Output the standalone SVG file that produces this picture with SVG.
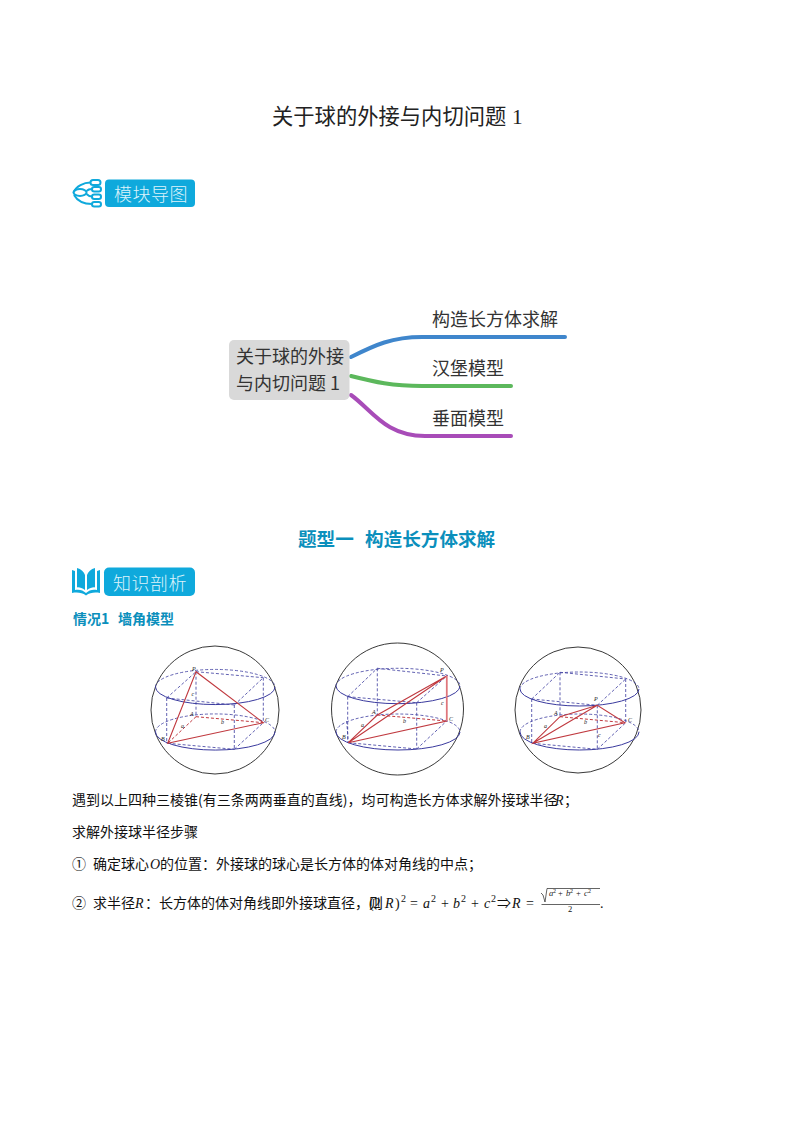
<svg xmlns="http://www.w3.org/2000/svg" width="794" height="1123" viewBox="0 0 794 1123">
<style>
text{font-family:"Noto Sans CJK SC","Liberation Sans",sans-serif;fill:#222}
.b{font-size:14px;fill:#111}
.m{font-family:"Liberation Serif","Noto Sans CJK SC",serif;font-size:14px;fill:#111}
.i{font-style:italic}
.s{font-size:10px}
.f{font-family:"Liberation Serif",serif;font-size:8.5px;font-style:italic;fill:#222}
.mm{font-size:18px;fill:#333}
.ban{fill:#0FA9DC}
.bt{font-size:18px;fill:#DDF3FB;letter-spacing:.5px;font-weight:300}
.ic{fill:none;stroke:#0FA9DC;stroke-width:2}
.c{fill:#fff;stroke:#222;stroke-width:.9}
.so{fill:none;stroke:#3A3A9E;stroke-width:1}
.da{fill:none;stroke:#3A3A9E;stroke-width:.8;stroke-dasharray:3 2}
.r{fill:none;stroke:#C0393F;stroke-width:1.1}
.rd{fill:none;stroke:#C0393F;stroke-width:1;stroke-dasharray:3 2}
.l{font-family:"Liberation Serif",serif;font-size:6px;font-style:italic;fill:#222}
.cn{fill:none;stroke-width:4;stroke-linecap:round}
</style>
<rect width="794" height="1123" fill="#fff"/>
<text x="272" y="124" font-size="21.3" fill="#222">关于球的外接与内切问题</text>
<text x="512" y="124" font-size="21.3" style="font-family:'Liberation Serif',serif">1</text>

<g id="icon-map" class="ic">
<ellipse cx="80" cy="192.5" rx="6.5" ry="3.5" class="ic"/>
<rect x="90.500" y="180" width="10" height="5" rx="2.500" class="ic"/>
<rect x="92" y="187" width="9" height="4.500" rx="2.200" class="ic"/>
<rect x="92" y="194.500" width="9" height="4.500" rx="2.200" class="ic"/>
<rect x="92" y="202" width="9" height="4.500" rx="2.200" class="ic"/>
<path class="ic" d="M73.500 192.500C76 186 84 182.500 90.500 182.500M86.500 191C88 189.500 90 189 92 189M86.500 194C88 195.500 90 196.500 92 196.500M74 195C78 202 85 204 92 204"/>
</g>
<g id="banner-map"><rect class="ban" x="105" y="179.500" width="90" height="27.500" rx="4"/><text class="bt" x="114" y="200.500">模块导图</text></g>

<g id="connectors">
<path class="cn" stroke="#3F86CC" d="M351 357C375 345 392 337 422 337L565 337"/>
<path class="cn" stroke="#5CB85C" d="M351 376C375 382 392 386 422 386L511 386"/>
<path class="cn" stroke="#A84CB8" d="M351 395C372 410 385 436 425 436L511 436"/>
</g>
<g id="node-root"><rect x="229" y="340" width="120.500" height="60" rx="5" fill="#D9D9D9"/>
<text class="mm" x="236" y="363">关于球的外接</text><text class="mm" x="236" y="390">与内切问题 1</text></g>
<g id="node-1"><text class="mm" x="432" y="326">构造长方体求解</text></g>
<g id="node-2"><text class="mm" x="432" y="375">汉堡模型</text></g>
<g id="node-3"><text class="mm" x="432" y="425">垂面模型</text></g>

<text x="298" y="546" font-size="18.600" font-weight="700" style="fill:#0B8FBC">题型一</text>
<text x="365" y="546" font-size="18.600" font-weight="700" style="fill:#0B8FBC">构造长方体求解</text>

<g id="icon-book">
<path d="M72 570L75 571L75 590C79 589 83 590 86 593L86 595.500C82 592.500 77 592 72 593Z" fill="#0FA9DC"/>
<path d="M100 570L97 571L97 590C93 589 89 590 86 593L86 595.500C90 592.500 95 592 100 593Z" fill="#0FA9DC"/>
<path d="M77 568C81 569 84 572 85 575L85 590C82 588 79 587 77 587.500ZM95 568C91 569 88 572 87 575L87 590C90 588 93 587 95 587.500Z" fill="#0FA9DC"/>
</g>
<g id="banner-know"><rect class="ban" x="104" y="567.500" width="91" height="28.500" rx="5"/><text class="bt" x="113" y="589.500">知识剖析</text></g>
<text x="73" y="624" font-size="14" font-weight="700" style="fill:#0B8FBC">情况1</text>
<text x="118" y="624" font-size="14" font-weight="700" style="fill:#0B8FBC">墙角模型</text>

<g id="sphere-1">
<circle class="c" cx="215" cy="710" r="64"/>
<path class="so" d="M155.500 687A59.500 17.500 0 0 0 275 687"/><path class="da" d="M155.500 687A59.500 17.500 0 0 1 275 687"/>
<path class="so" d="M155.500 732A59.500 18 0 0 0 275 732"/><path class="da" d="M155.500 732A59.500 18 0 0 1 275 732"/>
<path class="da" d="M196 671.700L196 716.700M263.300 677.700L263.300 722.700M166.700 698L166.700 743.300M234.300 705L234.300 749.300M166.700 698L196 671.700M234.300 705L263.300 677.700M234.300 749.300L263.300 722.700M167.700 743.300L234.300 749.300M196 671.700L263.300 677.700M166.700 698L234.300 705"/>
<path class="r" d="M196 671.700L167.700 743.300L263.300 722.700Z"/>
<path class="rd" d="M196 716.700L167.700 743.300M196 716.700L263.300 722.700"/>
<text class="l" x="192" y="671">P</text><text class="l" x="190" y="716">A</text><text class="l" x="161" y="741">B</text><text class="l" x="265" y="722">C</text>
<text class="l" x="191.500" y="696">c</text><text class="l" x="181" y="728">a</text><text class="l" x="221" y="724">b</text>
</g>

<g id="sphere-2">
<circle class="c" cx="397.500" cy="709" r="66"/>
<path class="so" d="M336 686A62 17.700 0 0 0 460 686"/><path class="da" d="M336 686A62 17.700 0 0 1 460 686"/>
<path class="so" d="M336 732A62 18 0 0 0 460 732"/><path class="da" d="M336 732A62 18 0 0 1 460 732"/>
<path class="da" d="M377.300 668.300L377.300 715M346.700 721L348.300 742.700M347.700 696.700L347.700 742.700M416.700 702.700L416.700 749M347.700 696.700L377.300 668.300M416.700 702.700L446.700 676M416.700 749L446.700 721M348.300 742.700L416.700 749M377.300 668.300L446.700 676M347.700 696.700L416.700 702.700"/>
<path class="r" d="M446.700 676L348.300 742.700L446.700 721ZM348.300 742.700L377.300 715L446.700 676"/>
<path class="rd" d="M377.300 715L446.700 721"/>
<path d="M446.700 676L446.700 721" fill="none" stroke="#E0767C" stroke-width="1.600"/>
<text class="l" x="440" y="672">P</text><text class="l" x="372" y="714">A</text><text class="l" x="342" y="739">B</text><text class="l" x="449" y="721">C</text>
<text class="l" x="441" y="705">c</text><text class="l" x="361" y="727">a</text><text class="l" x="403" y="723">b</text>
</g>

<g id="sphere-3">
<circle class="c" cx="578" cy="710" r="63"/>
<path class="so" d="M520 689A59.500 17 0 0 0 639 689"/><path class="da" d="M520 689A59.500 17 0 0 1 639 689"/>
<path class="so" d="M520 732A59.500 18 0 0 0 639 732"/><path class="da" d="M520 732A59.500 18 0 0 1 639 732"/>
<path class="da" d="M560 672.300L560 716.700M625.700 679L625.700 722.700M531.700 699L531.700 743.300M597.300 705.300L597.300 749.300M531.700 699L560 672.300M597.300 705.300L625.700 679M597.300 749.300L625.700 722.700M532.700 743.300L597.300 749.300M560 672.300L625.700 679M531.700 699L597.300 705.300"/>
<path class="r" d="M532.700 743.300L560 716.700L597.300 705.300L625 722.700L532.700 743.300ZM532.700 743.300L597.300 705.300"/>
<path class="rd" d="M560 716.700L625 722.700"/>
<text class="l" x="594" y="701">P</text><text class="l" x="554" y="715">A</text><text class="l" x="526" y="739">B</text><text class="l" x="628" y="722">C</text>
<text class="l" x="598" y="737">c</text><text class="l" x="544" y="728">a</text><text class="l" x="584" y="724">b</text>
</g>

<text class="b" x="72" y="805">遇到以上四种三棱锥(有三条两两垂直的直线)，均可构造长方体求解外接球半径</text>
<text class="m i" x="555" y="805">R</text><text class="b" x="564" y="805">；</text>
<text class="b" x="72" y="837">求解外接球半径步骤</text>
<text class="b" x="72" y="869">①</text><text class="b" x="93" y="869">确定球心</text><text class="m i" x="150" y="869">O</text><text class="b" x="160" y="869">的位置：外接球的球心是长方体的体对角线的中点；</text>
<text class="b" x="72" y="908">②</text><text class="b" x="93" y="908">求半径</text><text class="m i" x="135" y="908">R</text><text class="b" x="145" y="908">：长方体的体对角线即外接球直径，则</text>

<g id="formula">
<text class="m" x="369" y="908">(2</text><text class="m i" x="385" y="908">R</text><text class="m" x="395" y="908">)</text><text class="m s" x="401" y="902">2</text>
<text class="m" x="410" y="908">=</text><text class="m i" x="423" y="908">a</text><text class="m s" x="431" y="902">2</text>
<text class="m" x="441" y="908">+</text><text class="m i" x="453" y="908">b</text><text class="m s" x="461" y="902">2</text>
<text class="m" x="471" y="908">+</text><text class="m i" x="484" y="908">c</text><text class="m s" x="491" y="902">2</text>
<text class="m" x="497" y="908">⇒</text><text class="m i" x="512" y="908">R</text><text class="m" x="526" y="908">=</text>
<path d="M541 893L543 895L545 902L547 888.500L600 888.500M541.500 904.500L600 904.500" fill="none" stroke="#222" stroke-width=".7"/>
<text class="f" x="549" y="896">a</text><text class="m s" x="553" y="893" font-size="6" style="font-size:6px">2</text>
<text class="m" x="558" y="896" style="font-size:8.500px">+</text><text class="f" x="566" y="896">b</text><text class="m" x="570" y="893" style="font-size:6px">2</text>
<text class="m" x="576" y="896" style="font-size:8.500px">+</text><text class="f" x="584" y="896">c</text><text class="m" x="588" y="893" style="font-size:6px">2</text>
<text class="m" x="568" y="912" style="font-size:8.500px">2</text>
<text class="m" x="600" y="908">.</text>
</g>
</svg>
